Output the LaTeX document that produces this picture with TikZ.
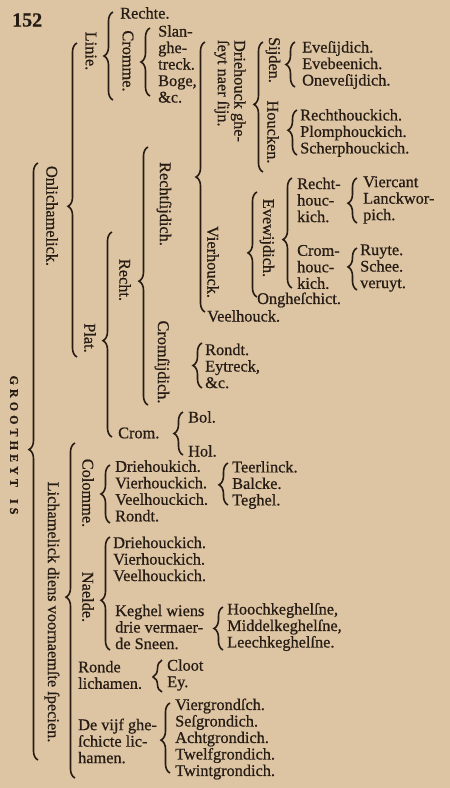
\documentclass[tikz,border=0pt]{standalone}
\usepackage{fontspec}
\setmainfont{Liberation Serif}[FakeBold=0.7]
\newfontfamily\bodyfont{Liberation Serif}[FakeBold=0.7]
\usetikzlibrary{decorations.pathreplacing}
\definecolor{paper}{RGB}{221,197,164}
\definecolor{ink}{RGB}{38,28,20}
\tikzset{
    txt/.style={inner sep=0pt, anchor=west, align=left, text=ink,
        font=\bodyfont\fontsize{16.3}{16.5}\selectfont},
    vtxt/.style={inner sep=0pt, rotate=-90, align=left, text=ink,
        font=\bodyfont\fontsize{16.3}{16.5}\selectfont},
    brc/.style={draw=ink, line width=1.6pt, decorate,
        decoration={brace, amplitude=9pt, aspect=#1}},
    brc/.default=0.5,
}

\begin{document}
\begin{tikzpicture}[x=1pt,y=-1pt]
\fill[paper] (0,0) rectangle (450,788);
\useasboundingbox (0,0) rectangle (450,788);
% page number
\node[txt, font=\bodyfont\fontsize{20}{20}\selectfont\bfseries] (num) at (12,20) {152};
% left column
\node[vtxt, font=\bodyfont\fontsize{12}{12}\selectfont\bfseries\addfontfeature{LetterSpace=34}] (groot) at (14,445) {GROOTHEYT\hspace{5pt} IS};
\node[vtxt] (onlich) at (52,216) {Onlichamelick.};
\node[vtxt] (lichm) at (52,612) {Lichamelick diens voornaemſte ſpecien.};
% Onlichamelick
\node[vtxt] (linie) at (91,51) {Linie.};
\node[txt] (rechte) at (120,13) {Rechte.};
\node[vtxt] (cromme) at (128,61) {Cromme.};
\node[txt] (slang) at (158,64) {Slan-\\ghe-\\treck.\\Boge,\\\&c.};
\node[vtxt] (plat) at (90,338) {Plat.};
\node[vtxt] (recht) at (125,280) {Recht.};
\node[vtxt] (rechtsij) at (164,204) {Rechtſijdich.};
\node[vtxt] (drieh) at (230,91) {Driehouck ghe-\\ſeyt naer ſijn.};
\node[vtxt] (sijden) at (273,60) {Sijden.};
\node[vtxt] (houcken) at (273,132) {Houcken.};
\node[txt] (evesij) at (302,65) {Eveſijdich.\\Evebeenich.\\Oneveſijdich.};
\node[txt] (rechth) at (300,133) {Rechthouckich.\\Plomphouckich.\\Scherphouckich.};
\node[vtxt] (vierh) at (213,262) {Vierhouck.};
\node[vtxt] (evew) at (267,238) {Evewijdich.};
\node[txt] (rhk) at (297,200) {Recht-\\houc-\\kich.};
\node[txt] (viercant) at (363,200) {Viercant\\Lanckwor-\\pich.};
\node[txt] (chk) at (297,267) {Crom-\\houc-\\kich.};
\node[txt] (ruyte) at (360,268) {Ruyte.\\Schee.\\veruyt.};
\node[txt] (ongh) at (257,300) {Ongheſchict.};
\node[txt] (veelh) at (207,316) {Veelhouck.};
\node[vtxt] (cromsij) at (162,362) {Cromſijdich.};
\node[txt] (rondt) at (205,366) {Rondt.\\Eytreck,\\\&c.};
\node[txt] (crom) at (118,433) {Crom.};
\node[txt] (bol) at (188,417) {Bol.};
\node[txt] (hol) at (188,451) {Hol.};
% Lichamelick
\node[vtxt] (colomme) at (88,493) {Colomme.};
\node[txt] (colk) at (115,491) {Driehoukich.\\Vierhouckich.\\Veelhouckich.\\Rondt.};
\node[txt] (teer) at (232,485) {Teerlinck.\\Balcke.\\Teghel.};
\node[vtxt] (naelde) at (88,597) {Naelde.};
\node[txt] (naelk) at (113,559) {Driehouckich.\\Vierhouckich.\\Veelhouckich.};
\node[txt] (keghel) at (115,627) {Keghel wiens\\drie vermaer-\\de Sneen.};
\node[txt] (hooch) at (227,627) {Hoochkeghelſne,\\Middelkeghelſne,\\Leechkeghelſne.};
\node[txt] (ronde) at (78,675) {Ronde\\lichamen.};
\node[txt] (cloot) at (167,675) {Cloot\\Ey.};
\node[txt] (vijf) at (78,741) {De vijf ghe-\\ſchicte lic-\\hamen.};
\node[txt] (vierg) at (175,739) {Viergrondſch.\\Seſgrondich.\\Achtgrondich.\\Twelfgrondich.\\Twintgrondich.};
% braces
\coordinate (grootT) at (38,163); \coordinate (grootB) at (38,760);
\coordinate (onlichT) at (77,43); \coordinate (onlichB) at (77,357);
\coordinate (lichmT) at (75,443); \coordinate (lichmB) at (75,778);
\coordinate (linieT) at (113,12); \coordinate (linieB) at (113,100);
\coordinate (crommeT) at (150,28); \coordinate (crommeB) at (150,96);
\coordinate (platT) at (112,232); \coordinate (platB) at (112,437);
\coordinate (rechtT) at (148,147); \coordinate (rechtB) at (148,405);
\coordinate (rechtsijT) at (205,42); \coordinate (rechtsijB) at (205,312);
\coordinate (driehT) at (263,42); \coordinate (driehB) at (263,172);
\coordinate (sijdenT) at (295,42); \coordinate (sijdenB) at (295,87);
\coordinate (houckenT) at (297,110); \coordinate (houckenB) at (297,155);
\coordinate (vierhT) at (257,192); \coordinate (vierhB) at (257,297);
\coordinate (evewT) at (292,178); \coordinate (evewB) at (292,288);
\coordinate (rhkT) at (357,178); \coordinate (rhkB) at (357,223);
\coordinate (chkT) at (357,248); \coordinate (chkB) at (357,290);
\coordinate (cromsijT) at (202,343); \coordinate (cromsijB) at (202,388);
\coordinate (cromT) at (183,412); \coordinate (cromB) at (183,455);
\coordinate (colommeT) at (110,465); \coordinate (colommeB) at (110,523);
\coordinate (colkT) at (228,463); \coordinate (colkB) at (228,505);
\coordinate (naeldeT) at (110,537); \coordinate (naeldeB) at (110,650);
\coordinate (keghelT) at (223,607); \coordinate (keghelB) at (223,650);
\coordinate (rondeT) at (162,660); \coordinate (rondeB) at (162,692);
\coordinate (vijfT) at (170,703); \coordinate (vijfB) at (170,773);
\draw[brc=.52] (grootB) -- (grootT);
\draw[brc=.48] (onlichB) -- (onlichT);
\draw[brc=.54] (lichmB) -- (lichmT);
\draw[brc] (linieB) -- (linieT);
\draw[brc] (crommeB) -- (crommeT);
\draw[brc=.47] (platB) -- (platT);
\draw[brc=.48] (rechtB) -- (rechtT);
\draw[brc] (rechtsijB) -- (rechtsijT);
\draw[brc=.52] (driehB) -- (driehT);
\draw[brc] (sijdenB) -- (sijdenT);
\draw[brc=.55] (houckenB) -- (houckenT);
\draw[brc=.42] (vierhB) -- (vierhT);
\draw[brc=.44] (evewB) -- (evewT);
\draw[brc=.44] (rhkB) -- (rhkT);
\draw[brc=.55] (chkB) -- (chkT);
\draw[brc] (cromsijB) -- (cromsijT);
\draw[brc] (cromB) -- (cromT);
\draw[brc] (colommeB) -- (colommeT);
\draw[brc=.48] (colkB) -- (colkT);
\draw[brc=.44] (naeldeB) -- (naeldeT);
\draw[brc] (keghelB) -- (keghelT);
\draw[brc=.47] (rondeB) -- (rondeT);
\draw[brc=.47] (vijfB) -- (vijfT);
\end{tikzpicture}
\end{document}
